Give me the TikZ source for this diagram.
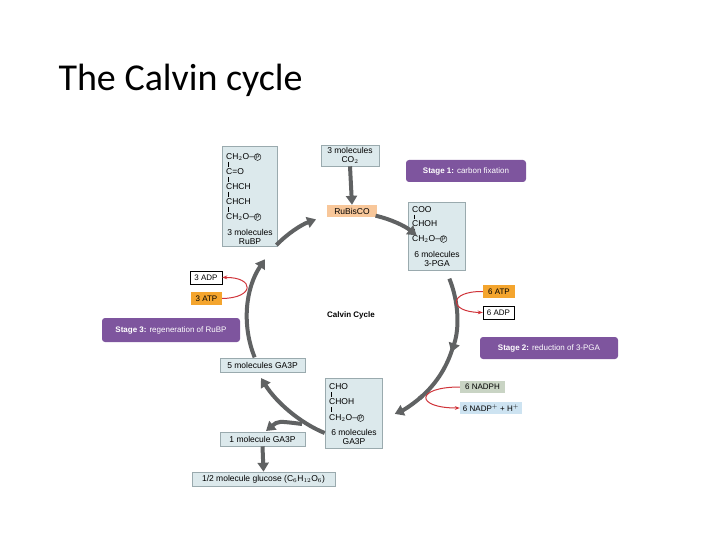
\documentclass[tikz,border=0pt]{standalone}
\usepackage{fontspec}
\setmainfont{Liberation Sans}
\newfontfamily\titlefont{Carlito}
\usetikzlibrary{arrows.meta}
\definecolor{boxb}{HTML}{DCE9EC}
\definecolor{boxe}{HTML}{9AAAAE}
\definecolor{purp}{HTML}{7E559E}
\definecolor{orng}{HTML}{F4A52E}
\definecolor{rubis}{HTML}{F8C79A}
\definecolor{cyc}{HTML}{606263}
\definecolor{redar}{HTML}{D0343A}
\definecolor{nadph}{HTML}{C9D4C4}
\definecolor{nadp}{HTML}{CDE3F1}
\newcommand{\Pc}{\tikz[baseline=(pp.base)]\node[circle,draw,inner sep=0.2pt,font=\fontsize{6.5}{6.5}\selectfont](pp){P};}
\begin{document}
\begin{tikzpicture}[x=1pt,y=-1pt,
  mol/.style={draw=boxe,fill=boxb,line width=0.6pt,font=\fontsize{8.5}{9.5}\selectfont,inner sep=1.5pt},
  stage/.style={fill=purp,text=white,rounded corners=3pt,font=\fontsize{8}{9}\selectfont,inner sep=0pt},
  tag/.style={font=\fontsize{8}{9}\selectfont,inner sep=1pt,minimum height=13pt},
  cycarrow/.style={draw=cyc,line width=4pt,-{Triangle[width=11pt,length=9pt]}},
  cycline/.style={draw=cyc,line width=4pt},
  redarrow/.style={draw=redar,line width=1pt,-{Stealth[length=5pt]}},
  chem/.style={font=\fontsize{8.5}{9.5}\selectfont,inner sep=0pt,anchor=west},
  bond/.style={draw=black,line width=0.5pt}]
\useasboundingbox (0,0) rectangle (720,540);
\node[anchor=west,font=\titlefont\fontsize{38}{42}\selectfont] (title) at (55,80) {The Calvin cycle};

% RuBP box
\node[mol,minimum width=55pt,minimum height=100pt] (rubp) at (249.5,196) {};
\node[chem] (r1) at (226,157) {CH$_2$O--\Pc};
\node[chem] (r2) at (226,172) {C=O};
\node[chem] (r3) at (226,187) {CHCH};
\node[chem] (r4) at (226,202) {CHCH};
\node[chem] (r5) at (226,217) {CH$_2$O--\Pc};
\draw[bond] (228.5,162) -- (228.5,167) (228.5,177) -- (228.5,182) (228.5,192) -- (228.5,197) (228.5,207) -- (228.5,212);
\node[font=\fontsize{8.5}{9.5}\selectfont,align=center,inner sep=0pt] (rl) at (250,237) {3 molecules\\RuBP};

\node[mol,align=center,minimum width=58pt,minimum height=21pt,inner sep=0.5pt] (co2) at (350,155.5) {3 molecules\\CO$_2$};
\node[stage,minimum width=120pt,minimum height=22pt] (s1) at (466,171) {\textbf{Stage 1:} carbon fixation};
\node[fill=rubis,font=\fontsize{8.5}{9}\selectfont,minimum width=50pt,minimum height=12pt,inner sep=0pt] (rubisco) at (352,211) {RuBisCO};

% 3-PGA box
\node[mol,minimum width=57pt,minimum height=68pt] (pga) at (436.5,236) {};
\node[chem] (p1) at (412,210) {COO};
\node[chem] (p2) at (412,224) {CHOH};
\node[chem] (p3) at (412,239) {CH$_2$O--\Pc};
\draw[bond] (414.5,215) -- (414.5,219) (414.5,229) -- (414.5,234);
\node[font=\fontsize{8.5}{9.5}\selectfont,align=center,inner sep=0pt] (pl) at (437,259) {6 molecules\\3-PGA};

\node[tag,draw=black,fill=white,minimum width=32pt] (adp3) at (206,277.5) {3 ADP};
\node[tag,fill=orng,minimum width=31pt] (atp3) at (206.5,298.5) {3 ATP};
\node[tag,fill=orng,minimum width=32pt] (atp6) at (499,291.5) {6 ATP};
\node[tag,draw=black,fill=white,minimum width=31pt] (adp6) at (498.5,312.5) {6 ADP};
\node[font=\bfseries\fontsize{8}{9}\selectfont] (cc) at (351,315) {Calvin Cycle};
\node[stage,minimum width=138pt,minimum height=24pt] (s3) at (171,330) {\textbf{Stage 3:} regeneration of RuBP};
\node[stage,minimum width=138pt,minimum height=22pt] (s2) at (549,348) {\textbf{Stage 2:} reduction of 3-PGA};
\node[mol,minimum width=85pt,minimum height=14pt,inner sep=0pt] (g5) at (262.5,365) {5 molecules GA3P};

% GA3P box
\node[mol,minimum width=57pt,minimum height=70pt] (ga3p) at (353.5,413) {};
\node[chem] (g1) at (329,387) {CHO};
\node[chem] (g2) at (329,402) {CHOH};
\node[chem] (g3) at (329,418) {CH$_2$O--\Pc};
\draw[bond] (331.5,392) -- (331.5,397) (331.5,407) -- (331.5,412);
\node[font=\fontsize{8.5}{9.5}\selectfont,align=center,inner sep=0pt] (gl) at (354,437) {6 molecules\\GA3P};

\node[tag,fill=nadph,minimum width=45pt,minimum height=12pt] (nadph) at (482.5,387) {6 NADPH};
\node[tag,fill=nadp,minimum width=62pt,minimum height=12pt] (nadp) at (491,408) {6 NADP$^+$ + H$^+$};
\node[mol,minimum width=85pt,minimum height=14pt,inner sep=0pt] (g1m) at (262.5,439) {1 molecule GA3P};
\node[mol,minimum width=143pt,minimum height=14pt,inner sep=0pt] (glu) at (263.5,479) {1/2 molecule glucose (C$_6$H$_{12}$O$_6$)};

% cycle arrows
\coordinate (c) at (352,318);
\draw[cycarrow] (co2.south) -- (rubisco.north);
\draw[cycarrow] ([shift={(-136:105)}]c) arc[start angle=-136,end angle=-110,radius=105];
\draw[cycarrow] ([shift={(-77:105)}]c) arc[start angle=-77,end angle=-52,radius=105];
\draw[cycarrow] ([shift={(-22:105)}]c) arc[start angle=-22,end angle=19,radius=105];
\draw[cycline] ([shift={(17:105)}]c) arc[start angle=17,end angle=50,radius=105];
\draw[cycarrow] ([shift={(48:105)}]c) arc[start angle=48,end angle=66,radius=105];
\draw[cycarrow] ([shift={(158:105)}]c) arc[start angle=158,end angle=214,radius=105];
\draw[cycarrow] (ga3p.west |- 0,433) .. controls (300,423) and (276,402) .. (261,378);
\draw[cycarrow] (302,424) .. controls (278,421) .. (266,431);
\draw[cycarrow] (g1m.south) -- (glu.north);

% red arrows
\draw[redarrow] (atp3.east) .. controls (255,298) and (255,277) .. (adp3.east);
\draw[redarrow] (atp6.west) .. controls (448,291) and (448,312) .. (adp6.west);
\draw[redarrow] (nadph.west) .. controls (415,387) and (415,408) .. (nadp.west);
\end{tikzpicture}
\end{document}
